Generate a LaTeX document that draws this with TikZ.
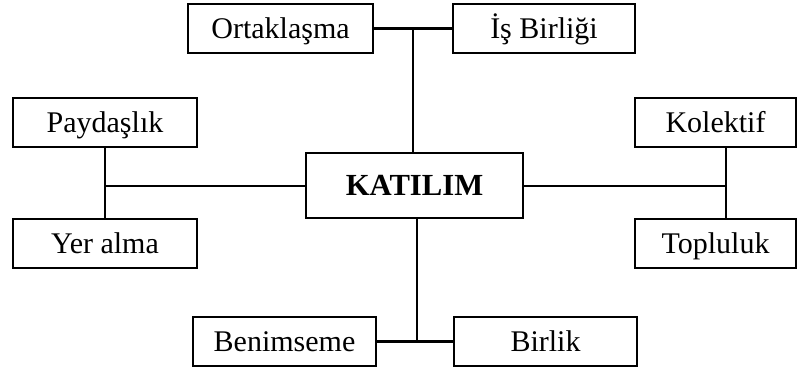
\documentclass[tikz,border=0pt]{standalone}
\usepackage{fontspec}
\setmainfont{Liberation Serif}
\begin{document}
\begin{tikzpicture}[x=0.75pt,y=-0.75pt,
  box/.style={draw=black,line width=1.8pt,fill=white,inner sep=0pt,minimum height=36.5pt,
    text height=14.9pt,text depth=0pt,font=\fontsize{22.5}{27}\selectfont},
  conn/.style={line width=1.7pt,line cap=rect}]
\useasboundingbox[fill=white] (0,0) rectangle (809,374);
\node[box,minimum width=138.75pt] (ort) at (280.5,28.5) {Ortaklaşma};
\node[box,minimum width=136.5pt] (isb) at (544,28.5) {İş Birliği};
\node[box,minimum width=138pt] (pay) at (105,122.5) {Paydaşlık};
\node[box,minimum width=138pt] (yer) at (105,243.5) {Yer alma};
\node[box,minimum width=162.75pt,minimum height=48.75pt,text height=15.6pt,
  font=\fontsize{23}{27}\selectfont\bfseries] (kat) at (414.5,185.5) {KATILIM};
\node[box,minimum width=120.75pt] (kol) at (715.5,122.5) {Kolektif};
\node[box,minimum width=120.75pt] (top) at (715.5,243.5) {Topluluk};
\node[box,minimum width=137.25pt] (ben) at (284.5,341.5) {Benimseme};
\node[box,minimum width=137.25pt] (bir) at (545.5,341.5) {Birlik};
\coordinate (jt) at (413,28.5);
\coordinate (jl) at (105,186);
\coordinate (jr) at (726,186);
\coordinate (jb) at (417,342);
\draw[conn] (ort.east) -- (isb.west);
\draw[conn] (jt) -- (jt |- kat.north);
\draw[conn] (pay.south) -- (yer.north);
\draw[conn] (jl) -- (jl -| kat.west);
\draw[conn] (jr |- kol.south) -- (jr |- top.north);
\draw[conn] (kat.east |- jr) -- (jr);
\draw[conn] (jb |- kat.south) -- (jb);
\draw[conn] (ben.east) -- (bir.west);
\end{tikzpicture}
\end{document}
